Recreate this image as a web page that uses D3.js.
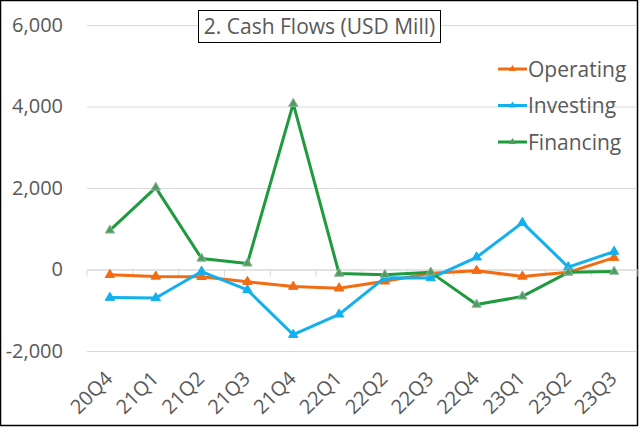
<!DOCTYPE html>
<html>
<head>
<meta charset="utf-8">
<script src="https://cdn.jsdelivr.net/npm/d3@7"></script>
<style>
  body { margin: 0; background: #fff; }
  text { font-family: "Open Sans", "Noto Sans", sans-serif; fill: #595959; }
</style>
</head>
<body>
<svg id="chart" width="640" height="428"></svg>
<script>
const quarters = ['20Q4', '21Q1', '21Q2', '21Q3', '21Q4', '22Q1', '22Q2', '22Q3', '22Q4', '23Q1', '23Q2', '23Q3'];
const operating = [-130, -170, -180, -300, -420, -460, -290, -90, -30, -170, -70, 290];
const investing = [-690, -700, -50, -500, -1600, -1100, -200, -210, 300, 1150, 60, 440];
const financing = [960, 2010, 270, 150, 4070, -100, -130, -70, -860, -660, -70, -50];
const yTicks = [-2000, 0, 2000, 4000, 6000];
const seriesNames = ['Operating', 'Investing', 'Financing'];
const colors = ['#F36C12', '#12B0EE', '#1F9A3E'];

const svg = d3.select('#chart');
const width = 640;
const height = 428;
const margin = { top: 25, right: 3, bottom: 77, left: 87 };

svg.append('rect')
  .attr('x', 0.5).attr('y', 0.5)
  .attr('width', width - 3).attr('height', height - 3)
  .attr('fill', '#fff').attr('stroke', '#000').attr('stroke-width', 1.5);

const xScale = d3.scaleBand()
  .domain(quarters)
  .range([margin.left, width - margin.right]);

const yScale = d3.scaleLinear()
  .domain([-2000, 6000])
  .range([height - margin.bottom, margin.top]);

// gridlines + y labels
const yAxis = svg.append('g')
  .attr('transform', `translate(${margin.left}, 0)`)
  .call(d3.axisLeft(yScale).tickValues(yTicks)
    .tickSize(-(width - margin.right - margin.left)).tickPadding(24)
    .tickFormat(d => d3.format(',')(d).replace('−', '-')));
yAxis.select('.domain').remove();
yAxis.selectAll('line').attr('stroke', '#d9d9d9').attr('stroke-width', 1);
yAxis.selectAll('text').style('font-size', '20px').attr('fill', '#595959');

// zero axis with category ticks
const xAxis = svg.append('g')
  .attr('transform', `translate(0, ${yScale(0)})`)
  .call(d3.axisBottom(xScale).tickSize(0).tickFormat(''));
xAxis.select('.domain').attr('stroke', '#d9d9d9');
xAxis.selectAll('.tick').remove();
svg.append('g').selectAll('line')
  .data(quarters.concat(['end']))
  .join('line')
  .attr('x1', (d, i) => margin.left + i * xScale.step())
  .attr('x2', (d, i) => margin.left + i * xScale.step())
  .attr('y1', yScale(0))
  .attr('y2', yScale(0) + 7)
  .attr('stroke', '#d9d9d9');

// rotated category labels
svg.append('g').selectAll('text')
  .data(quarters)
  .join('text')
  .attr('transform', d => `translate(${xScale(d) + xScale.bandwidth() / 2 + 4}, 380) rotate(-45)`)
  .attr('text-anchor', 'end')
  .style('font-size', '20px')
  .text(d => d);

const line = d3.line()
  .x((d, i) => xScale(quarters[i]) + xScale.bandwidth() / 2)
  .y(d => yScale(d));

const triangle = d3.symbol().type(d3.symbolTriangle).size(38);
const allSeries = [operating, investing, financing];

allSeries.forEach((values, s) => {
  svg.append('path')
    .datum(values)
    .attr('fill', 'none')
    .attr('stroke', colors[s])
    .attr('stroke-width', 3)
    .attr('stroke-linejoin', 'round')
    .attr('d', line);
  svg.append('g').selectAll('path')
    .data(values)
    .join('path')
    .attr('transform', (d, i) => `translate(${xScale(quarters[i]) + xScale.bandwidth() / 2}, ${yScale(d)})`)
    .attr('d', triangle)
    .attr('fill', s === 2 ? '#4f9c61' : colors[s])
    .attr('stroke', s === 2 ? '#8fb89a' : colors[s])
    .attr('stroke-width', 1);
});

// title
svg.append('rect')
  .attr('x', 198.5).attr('y', 10.5)
  .attr('width', 242).attr('height', 32)
  .attr('fill', '#fff').attr('stroke', '#000').attr('stroke-width', 1);
svg.append('text')
  .attr('x', 319.5).attr('y', 34)
  .attr('text-anchor', 'middle')
  .style('font-size', '21px')
  .attr('fill', '#404040')
  .text('2. Cash Flows (USD Mill)');

// legend
const legend = svg.append('g').selectAll('g')
  .data(seriesNames)
  .join('g')
  .attr('transform', (d, i) => `translate(498, ${69 + i * 36.5})`);
legend.append('rect')
  .attr('x', 0).attr('y', -6).attr('width', 30).attr('height', 12).attr('fill', '#fff');
legend.append('line')
  .attr('x1', 0).attr('x2', 29).attr('y1', 0).attr('y2', 0)
  .attr('stroke', (d, i) => colors[i]).attr('stroke-width', 3);
legend.append('path')
  .attr('transform', 'translate(14.5, 0)')
  .attr('d', d3.symbol().type(d3.symbolTriangle).size(22))
  .attr('fill', (d, i) => i === 2 ? '#4f9c61' : colors[i]);
legend.append('text')
  .attr('x', 30).attr('y', 7.5)
  .style('font-size', '21px')
  .text(d => d);
</script>
</body>
</html>
